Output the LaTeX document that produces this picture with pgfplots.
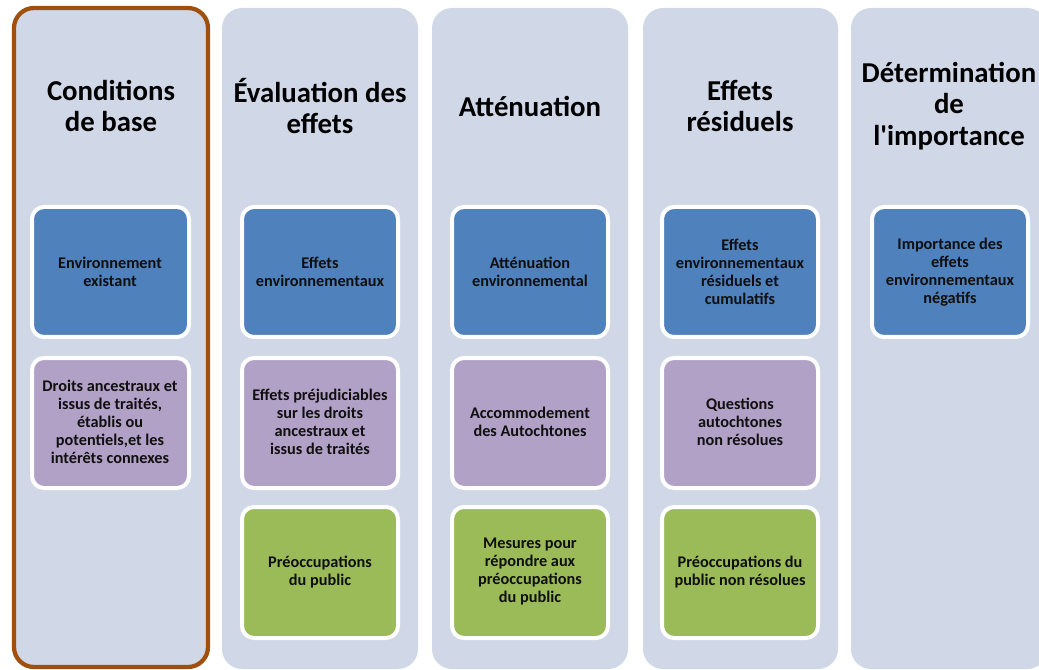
\documentclass[border=0pt]{standalone}
\usepackage{pgfplots}
\pgfplotsset{compat=1.18}
\usepackage{fontspec}
\setmainfont{Carlito}[Ligatures=TeXOff]
\definecolor{colbg}{RGB}{208,216,232}
\definecolor{obrd}{RGB}{160,80,14}
\definecolor{bblue}{RGB}{79,129,189}
\definecolor{bpurp}{RGB}{178,161,199}
\definecolor{bgreen}{RGB}{155,187,89}
\definecolor{txt}{RGB}{15,15,15}
\begin{document}
\begin{tikzpicture}
\useasboundingbox (0,0) rectangle (779.25pt,502.5pt);
\begin{axis}[at={(0,0)}, anchor=south west, x=0.75pt, y=0.75pt, y dir=reverse,
  xmin=0, xmax=1039, ymin=0, ymax=670, hide axis, clip=false]
% columns
\fill[colbg, rounded corners=15pt] (222,8) rectangle (418,669);
\fill[colbg, rounded corners=15pt] (432,8) rectangle (628,669);
\fill[colbg, rounded corners=15pt] (643,8) rectangle (838,669);
\fill[colbg, rounded corners=15pt] (851,8) rectangle (1047,669);
\filldraw[fill=colbg, draw=obrd, line width=3.2pt, rounded corners=15pt] (14,8) rectangle (208,667);
% headings
\begin{scope}[every node/.style={align=center, font=\fontsize{21.6pt}{23.5pt}\selectfont\bfseries, text=black}]
\node at (111,106) {Conditions\\de base};
\node at (320,106) {Évaluation des\\effets};
\node at (530,106) {Atténuation};
\node at (740,106) {Effets\\résiduels};
\node at (949,106) {Détermination\\de\\l'importance};
\end{scope}
% inner boxes
\begin{scope}[every path/.style={draw=white, line width=3pt, rounded corners=9pt}]
\filldraw[fill=bblue] (32,207) rectangle (189,337);
\filldraw[fill=bpurp] (32,358) rectangle (189,488);
\filldraw[fill=bblue] (242,207) rectangle (398,337);
\filldraw[fill=bpurp] (242,358) rectangle (398,488);
\filldraw[fill=bgreen] (242,507) rectangle (398,638);
\filldraw[fill=bblue] (452,207) rectangle (608,337);
\filldraw[fill=bpurp] (452,358) rectangle (608,488);
\filldraw[fill=bgreen] (452,507) rectangle (608,638);
\filldraw[fill=bblue] (662,207) rectangle (818,337);
\filldraw[fill=bpurp] (662,358) rectangle (818,488);
\filldraw[fill=bgreen] (662,507) rectangle (818,638);
\filldraw[fill=bblue] (872,207) rectangle (1028,337);
\end{scope}
\begin{scope}[every node/.style={align=center, font=\fontsize{12.2pt}{13.5pt}\selectfont\bfseries, text=txt}]
\node at (110,272) {Environnement\\existant};
\node at (110,422) {Droits ancestraux et\\issus de traités,\\établis ou\\potentiels,et les\\intérêts connexes};
\node at (320,272) {Effets\\environnementaux};
\node at (320,422) {Effets préjudiciables\\sur les droits\\ancestraux et\\issus de traités};
\node at (320,572) {Préoccupations\\du public};
\node at (530,272) {Atténuation\\environnemental};
\node at (530,422) {Accommodement\\des Autochtones};
\node at (530,572) {Mesures pour\\répondre aux\\préoccupations\\du public};
\node at (740,272) {Effets\\environnementaux\\résiduels et\\cumulatifs};
\node at (740,422) {Questions\\autochtones\\non résolues};
\node at (740,572) {Préoccupations du\\public non résolues};
\node at (950,272) {Importance des\\effets\\environnementaux\\négatifs};
\end{scope}
\end{axis}
\end{tikzpicture}
\end{document}
